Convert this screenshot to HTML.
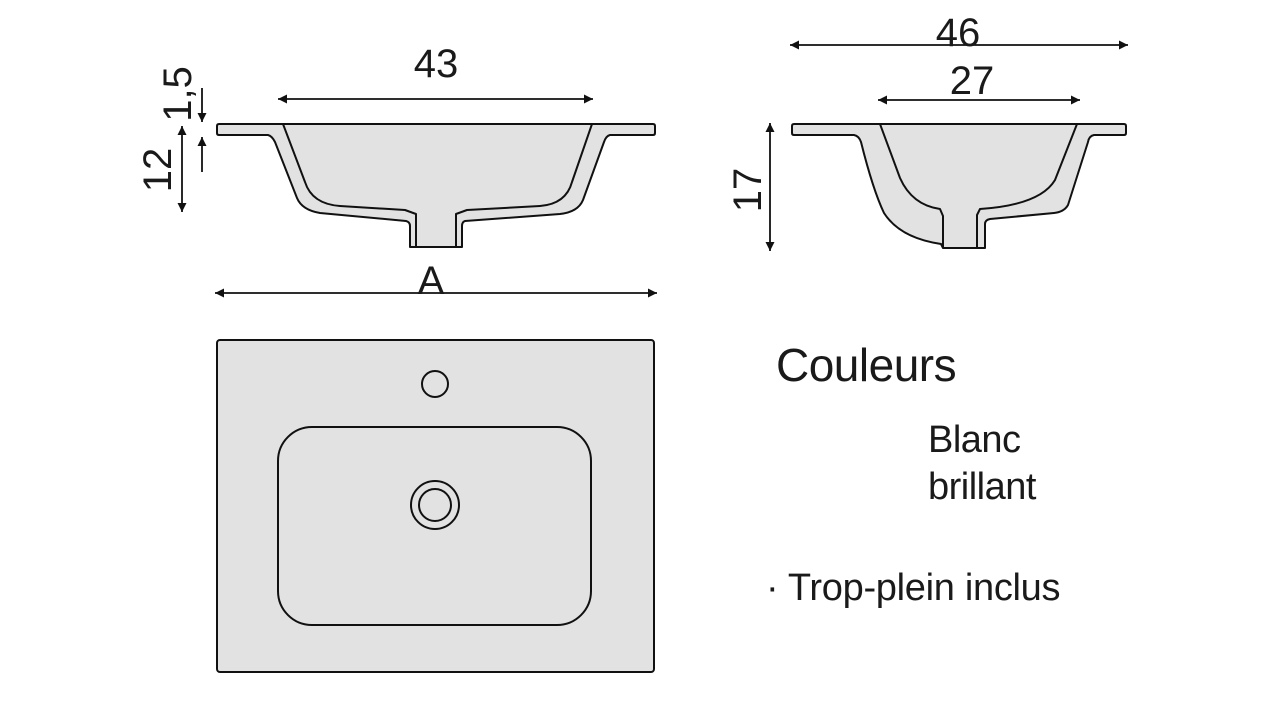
<!DOCTYPE html>
<html><head><meta charset="utf-8"><style>
html,body{margin:0;padding:0;background:#fff;width:1280px;height:720px;overflow:hidden}
svg{display:block}
text{font-family:"Liberation Sans",sans-serif;fill:#1a1a1a}
</style></head><body>
<svg width="1280" height="720" viewBox="0 0 1280 720" xmlns="http://www.w3.org/2000/svg">
<defs>
<marker id="a" viewBox="0 0 10 10" refX="10" refY="5" markerWidth="14" markerHeight="9" orient="auto-start-reverse" markerUnits="userSpaceOnUse"><path d="M0,0 L10,5 L0,10 z" fill="#111"/></marker>
</defs>
<g stroke="#111" stroke-width="2" fill="#e2e2e2" stroke-linejoin="round">
<path d="M219,124 L653,124 Q655,124 655,126 L655,133 Q655,135 653,135 L610,135 Q606,136 604,142 L583,200 Q578,212 560,214 L465,221 Q462,222 462,226 L462,247 L410,247 L410,226 Q410,222 406,221 L320,213 Q302,210 297,198 L275,142 Q272,136 268,135 L219,135 Q217,135 217,133 L217,126 Q217,124 219,124 Z"/>
<path d="M283,124 L305,182 Q312,204 340,206 L405,210 L416,214 L416,247 M456,247 L456,214 L467,210 L540,206 Q566,204 572,182 L592,124" fill="none"/>
<path d="M794,124 L1124,124 Q1126,124 1126,126 L1126,133 Q1126,135 1124,135 L1094,135 Q1089,136 1088,142 L1068,205 Q1064,212 1054,213 L990,219 Q985,220 985,224 L985,248 L943,248 L941,244 Q900,238 884,213 Q873,190 861,142 Q859,136 854,135 L794,135 Q792,135 792,133 L792,126 Q792,124 794,124 Z"/>
<path d="M880,124 L900,178 Q912,205 940,209 L943,216 L943,248 M977,248 L977,215 L980,209 Q1040,205 1055,180 L1077,124" fill="none"/>
<rect x="217" y="340" width="437" height="332" rx="3"/>
<circle cx="435" cy="384" r="13" />
<rect x="278" y="427" width="313" height="198" rx="34"/>
<circle cx="435" cy="505" r="24"/>
<circle cx="435" cy="505" r="16"/>
</g>
<g stroke="#111" stroke-width="1.8" fill="none">
<line x1="278" y1="99" x2="593" y2="99" marker-start="url(#a)" marker-end="url(#a)"/>
<line x1="215" y1="293" x2="657" y2="293" marker-start="url(#a)" marker-end="url(#a)"/>
<line x1="182" y1="126" x2="182" y2="212" marker-start="url(#a)" marker-end="url(#a)"/>
<line x1="202" y1="88" x2="202" y2="122" marker-end="url(#a)"/>
<line x1="202" y1="172" x2="202" y2="137" marker-end="url(#a)"/>
<line x1="790" y1="45" x2="1128" y2="45" marker-start="url(#a)" marker-end="url(#a)"/>
<line x1="878" y1="100" x2="1080" y2="100" marker-start="url(#a)" marker-end="url(#a)"/>
<line x1="770" y1="123" x2="770" y2="251" marker-start="url(#a)" marker-end="url(#a)"/>
</g>
<g font-size="40" text-anchor="middle">
<text x="436" y="77">43</text>
<text x="958" y="46">46</text>
<text x="972" y="94">27</text>
<text x="431" y="294">A</text>
<text transform="translate(171,170) rotate(-90)">12</text>
<text transform="translate(191,94) rotate(-90)">1,5</text>
<text transform="translate(761,190) rotate(-90)">17</text>
</g>
<text x="776" y="381" font-size="46" letter-spacing="-0.5">Couleurs</text>
<text x="928" y="452" font-size="38" letter-spacing="-0.5">Blanc</text>
<text x="928" y="499" font-size="38" letter-spacing="-0.5">brillant</text>
<text x="766" y="600" font-size="38" letter-spacing="-0.3">· Trop-plein inclus</text>
</svg>
</body></html>
